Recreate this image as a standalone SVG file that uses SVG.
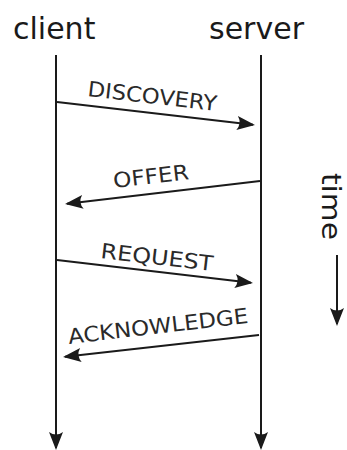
<svg xmlns="http://www.w3.org/2000/svg" width="347" height="450" viewBox="0 0 347 450">
<style>
.ln{stroke:#1a1a1a;stroke-width:2;fill:none}
.msg{stroke:#1a1a1a;stroke-width:2;fill:none;marker-end:url(#ah)}
.big{font-family:"DejaVu Sans",sans-serif;font-size:30px;fill:#1a1a1a}
.lab{font-family:"DejaVu Sans",sans-serif;font-size:21px;fill:#2a2a2a}
</style>
<defs>
<marker id="ah" markerUnits="userSpaceOnUse" markerWidth="30" markerHeight="30" viewBox="-20 -10 30 20" refX="0" refY="0" orient="auto" overflow="visible">
<path d="M2,0 L-16,-7 Q-11,0 -16,7 Z" fill="#1a1a1a"/>
</marker>
</defs>
<rect width="347" height="450" fill="#fff"/>
<g id="client"><text class="big" x="13" y="39">client</text></g>
<g id="server"><text class="big" x="209" y="39">server</text></g>
<g id="time"><text class="big" style="font-size:27px" transform="translate(322,173) rotate(90)" textLength="67" lengthAdjust="spacingAndGlyphs">time</text></g>
<g id="connectors">
<line class="msg" x1="56" y1="55" x2="56" y2="448"/>
<line class="msg" x1="261" y1="55" x2="261" y2="448"/>
<line class="msg" x1="337" y1="255" x2="337" y2="324"/>
<line class="msg" x1="57" y1="102" x2="253" y2="124.8"/>
<line class="msg" x1="260" y1="181" x2="67" y2="203.8"/>
<line class="msg" x1="57" y1="260" x2="251" y2="282.8"/>
<line class="msg" x1="259" y1="335" x2="65" y2="356.8"/>
</g>
<g id="discovery"><text class="lab" transform="translate(87,96) rotate(6.6)" textLength="130" lengthAdjust="spacingAndGlyphs">DISCOVERY</text></g>
<g id="offer"><text class="lab" transform="translate(114,188) rotate(-6.7)" textLength="76" lengthAdjust="spacingAndGlyphs">OFFER</text></g>
<g id="request"><text class="lab" transform="translate(100,258) rotate(6.6)" textLength="113" lengthAdjust="spacingAndGlyphs">REQUEST</text></g>
<g id="acknowledge"><text class="lab" transform="translate(69,344) rotate(-6.7)" textLength="181" lengthAdjust="spacingAndGlyphs">ACKNOWLEDGE</text></g>
</svg>
